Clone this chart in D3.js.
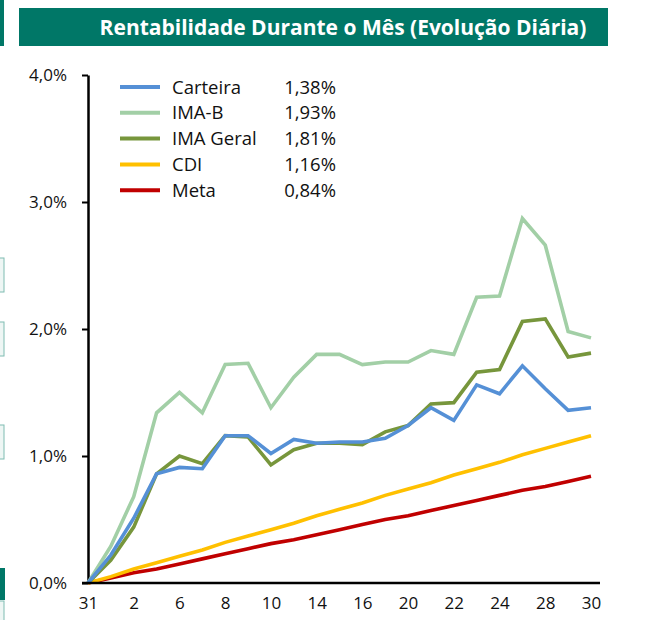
<!DOCTYPE html>
<html>
<head>
<meta charset="utf-8">
<script src="https://cdn.jsdelivr.net/npm/d3@7"></script>
<style>
  body { margin: 0; background: #fff; font-family: "Open Sans", sans-serif; }
  svg text { font-family: "Open Sans", sans-serif; }
</style>
</head>
<body>
<svg id="chart" width="660" height="620"></svg>
<script>
// business days of the month (31 = last day of previous month)
const days = ["31", "1", "2", "3", "6", "7", "8", "9", "10", "13", "14", "15",
  "16", "17", "20", "21", "22", "23", "24", "27", "28", "29", "30"];
const tickDays = ["31", "2", "6", "8", "10", "14", "16", "20", "22", "24", "28", "30"];

const carteira = [0, 0.22, 0.51, 0.86, 0.91, 0.90, 1.16, 1.16, 1.02, 1.13, 1.10, 1.11,
  1.11, 1.14, 1.24, 1.38, 1.28, 1.56, 1.49, 1.71, 1.53, 1.36, 1.38];
const imaB = [0, 0.29, 0.68, 1.34, 1.50, 1.34, 1.72, 1.73, 1.38, 1.62, 1.80, 1.80,
  1.72, 1.74, 1.74, 1.83, 1.80, 2.25, 2.26, 2.87, 2.66, 1.98, 1.93];
const imaGeral = [0, 0.18, 0.44, 0.86, 1.00, 0.94, 1.16, 1.15, 0.93, 1.05, 1.10, 1.10,
  1.09, 1.19, 1.24, 1.41, 1.42, 1.66, 1.68, 2.06, 2.08, 1.78, 1.81];
const cdi = [0, 0.05, 0.11, 0.16, 0.21, 0.26, 0.32, 0.37, 0.42, 0.47, 0.53, 0.58,
  0.63, 0.69, 0.74, 0.79, 0.85, 0.90, 0.95, 1.01, 1.06, 1.11, 1.16];
const meta = [0, 0.04, 0.08, 0.11, 0.15, 0.19, 0.23, 0.27, 0.31, 0.34, 0.38, 0.42,
  0.46, 0.50, 0.53, 0.57, 0.61, 0.65, 0.69, 0.73, 0.76, 0.80, 0.84];

const seriesNames = ["Carteira", "IMA-B", "IMA Geral", "CDI", "Meta"];
const seriesTotals = ["1,38%", "1,93%", "1,81%", "1,16%", "0,84%"];
const seriesColors = ["#5590d6", "#a2cfa6", "#77963c", "#ffc000", "#c00000"];
const yTicks = [0, 1, 2, 3, 4];

const series = [carteira, imaB, imaGeral, cdi, meta].map((values, i) => ({
  name: seriesNames[i], total: seriesTotals[i], color: seriesColors[i], values
}));

const svg = d3.select("#chart");
const teal = "#007767";

// bits of the neighbouring page cut off at the left edge
svg.append("rect").attr("x", 0).attr("y", 0).attr("width", 4).attr("height", 46).attr("fill", teal);
[[258, 34], [322, 34], [425, 34]].forEach(([y, h]) => {
  svg.append("rect").attr("x", -2).attr("y", y).attr("width", 6).attr("height", h)
    .attr("fill", "#eef6f4").attr("stroke", "#7fbcb2").attr("stroke-width", 1);
});
svg.append("rect").attr("x", 0).attr("y", 568).attr("width", 5).attr("height", 32).attr("fill", teal);
svg.append("rect").attr("x", -2).attr("y", 601).attr("width", 6).attr("height", 30)
  .attr("fill", "#eef6f4").attr("stroke", "#7fbcb2").attr("stroke-width", 1);

// title banner
svg.append("rect").attr("x", 19).attr("y", 8).attr("width", 589).attr("height", 38).attr("fill", teal);
svg.append("text").attr("x", 343).attr("y", 34.5).attr("text-anchor", "middle")
  .style("font-size", "21px").style("font-weight", "700").style("fill", "#fff")
  .text("Rentabilidade Durante o Mês (Evolução Diária)");

const x = d3.scalePoint().domain(days).range([88, 591]);
const y = d3.scaleLinear().domain([0, 4]).range([583, 75]);

// y axis
const yAxis = svg.append("g").attr("transform", "translate(88,0)")
  .call(d3.axisLeft(y).tickValues(yTicks).tickSize(6).tickSizeOuter(0)
    .tickFormat(d => d.toFixed(1).replace(".", ",") + "%"));
yAxis.select(".domain").attr("stroke", "#000").attr("stroke-width", 2.5);
yAxis.selectAll(".tick line").attr("stroke", "#000").attr("stroke-width", 2);
yAxis.selectAll(".tick text").attr("x", -21).attr("dy", "0.32em")
  .style("font-size", "17px").style("fill", "#111");

// lines
const line = d3.line().x((d, i) => x(days[i])).y(d => y(d));
svg.append("g").selectAll("path").data(series.slice().reverse()).join("path")
  .attr("d", d => line(d.values))
  .attr("fill", "none").attr("stroke", d => d.color)
  .attr("stroke-width", 3.6).attr("stroke-linejoin", "miter");

// x axis
const xAxis = svg.append("g").attr("transform", "translate(0,583)")
  .call(d3.axisBottom(x).tickValues(tickDays).tickSize(0).tickPadding(14));
xAxis.select(".domain").remove();
xAxis.selectAll(".tick text").style("font-size", "17px").style("fill", "#111");
svg.append("line").attr("x1", 82).attr("x2", 600).attr("y1", 583).attr("y2", 583)
  .attr("stroke", "#000").attr("stroke-width", 2.5);

// legend
const legend = svg.append("g").selectAll("g").data(series).join("g")
  .attr("transform", (d, i) => `translate(120,${87 + i * 25.8})`);
legend.append("line").attr("x1", 0).attr("x2", 40).attr("y1", 0).attr("y2", 0)
  .attr("stroke", d => d.color).attr("stroke-width", 4);
legend.append("text").attr("x", 52).attr("dy", "0.36em")
  .style("font-size", "18.5px").style("fill", "#111").text(d => d.name);
legend.append("text").attr("x", 216).attr("dy", "0.36em")
  .attr("text-anchor", "end")
  .style("font-size", "18.5px").style("fill", "#111").text(d => d.total);
</script>
</body>
</html>
